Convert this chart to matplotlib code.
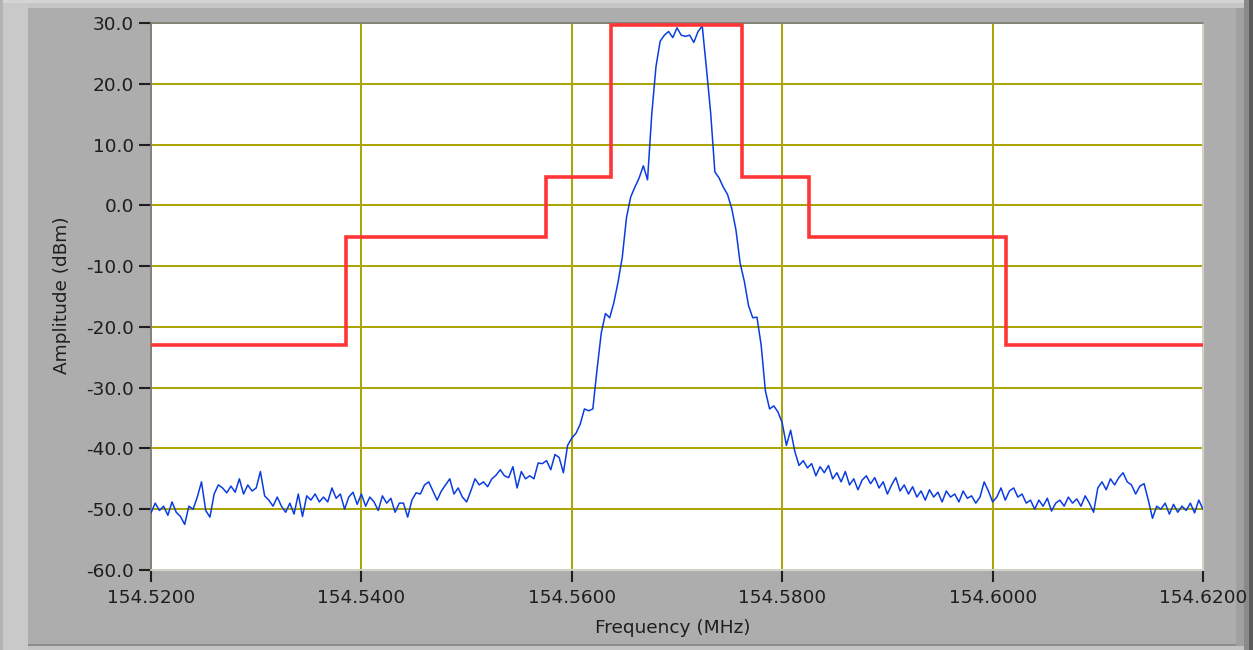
import numpy as np
import matplotlib
matplotlib.use("Agg")
import matplotlib.pyplot as plt
from matplotlib.patches import Rectangle
from matplotlib.ticker import FormatStrFormatter

plt.rcParams['axes.unicode_minus'] = False
plt.rcParams['font.family'] = ['DejaVu Sans']

# spectrum trace, one value every 0.0004 MHz from 154.5200 to 154.6200
f_start = 154.52
f_step = 0.0004
amplitude = [
    -50.6, -49.0, -50.2, -49.5, -51.0, -48.8, -50.5, -51.2, -52.5, -49.5,
    -50.0, -48.0, -45.5, -50.2, -51.3, -47.5, -46.0, -46.5, -47.3, -46.2,
    -47.2, -45.0, -47.5, -46.0, -47.0, -46.5, -43.8, -47.8, -48.5, -49.5,
    -48.0, -49.5, -50.5, -49.0, -50.8, -47.5, -51.2, -47.8, -48.5, -47.5,
    -48.8, -48.0, -48.8, -46.5, -48.2, -47.5, -50.0, -48.0, -47.2, -49.2,
    -47.5, -49.5, -48.0, -48.8, -50.2, -47.8, -49.0, -48.2, -50.5, -49.0,
    -49.0, -51.3, -48.5, -47.3, -47.5, -46.0, -45.5, -47.0, -48.5, -47.0,
    -46.0, -45.0, -47.5, -46.5, -48.0, -48.8, -47.0, -45.0, -46.0, -45.5,
    -46.3, -45.0, -44.4, -43.5, -44.5, -44.8, -43.0, -46.5, -43.8, -45.0,
    -44.5, -45.0, -42.4, -42.5, -42.0, -43.5, -41.0, -41.5, -44.0, -39.5,
    -38.3, -37.5, -36.0, -33.5, -33.8, -33.5, -27.0, -21.0, -17.8, -18.5,
    -16.0, -12.6, -8.5, -2.0, 1.4, 3.0, 4.5, 6.5, 4.2, 15.0,
    22.8, 27.0, 28.0, 28.6, 27.6, 29.2, 28.0, 27.8, 28.0, 26.8,
    28.6, 29.5, 22.5, 15.2, 5.5, 4.5, 3.0, 1.8, -0.5, -4.0,
    -9.5, -12.5, -16.5, -18.5, -18.4, -23.0, -30.5, -33.5, -33.0, -34.0,
    -35.8, -39.5, -37.0, -40.5, -42.8, -42.0, -43.2, -42.5, -44.5, -43.0,
    -44.0, -42.8, -45.0, -44.0, -45.5, -43.8, -46.0, -45.0, -46.8, -45.2,
    -44.5, -45.8, -44.8, -46.5, -45.5, -47.5, -46.0, -44.8, -47.0, -46.0,
    -47.5, -46.3, -48.0, -47.0, -48.5, -46.8, -48.0, -47.2, -48.8, -47.0,
    -48.0, -47.5, -48.8, -47.0, -48.2, -47.8, -49.0, -48.0, -45.5, -47.0,
    -48.8, -48.0, -46.5, -48.5, -47.0, -46.5, -48.0, -47.5, -49.0, -48.5,
    -50.0, -48.5, -49.5, -48.2, -50.3, -49.0, -48.5, -49.5, -48.0, -49.0,
    -48.3, -49.5, -47.8, -49.0, -50.5, -46.5, -45.5, -46.8, -45.0, -46.0,
    -44.8, -44.0, -45.5, -46.0, -47.5, -46.2, -45.8, -48.5, -51.5, -49.5,
    -50.0, -49.0, -50.8, -49.2, -50.5, -49.5, -50.2, -49.0, -50.6, -48.5,
    -50.0,
]

# spectral mask (step corners)
mask_freq = [154.52, 154.5385, 154.5385, 154.5575, 154.5575, 154.5637, 154.5637,
             154.5762, 154.5762, 154.5825, 154.5825, 154.6013, 154.6013, 154.62]
mask_level = [-23.0, -23.0, -5.2, -5.2, 4.7, 4.7, 29.7,
              29.7, 4.7, 4.7, -5.2, -5.2, -23.0, -23.0]

x_ticks = [154.52, 154.54, 154.56, 154.58, 154.60, 154.62]
y_ticks = [-60, -50, -40, -30, -20, -10, 0, 10, 20, 30]

freq = f_start + f_step * np.arange(len(amplitude))

W, H = 1253, 650
fig = plt.figure(figsize=(W / 100, H / 100), dpi=100, facecolor='#adadad')

# frame decoration around the panel
def px_rect(x0, y0, x1, y1, color):
    fig.add_artist(Rectangle((x0 / W, 1 - y1 / H), (x1 - x0) / W, (y1 - y0) / H,
                             transform=fig.transFigure, facecolor=color,
                             edgecolor='none', zorder=-10))

px_rect(0, 0, W, 3, '#d4d4d4')
px_rect(0, 3, W, 8, '#c6c6c6')
px_rect(0, 0, 3, H, '#b4b4b4')
px_rect(3, 3, 28, H, '#c9c9c9')
px_rect(1236, 8, 1244, H, '#a0a0a0')
px_rect(1244, 0, 1249, H, '#8a8a8a')
px_rect(1249, 0, W, H, '#5c5c5c')
px_rect(28, 644, 1236, 646, '#8c8c8c')
px_rect(28, 646, 1244, H, '#c4c4c4')

ax = fig.add_axes([151 / W, 80 / H, 1052 / W, 547 / H])
ax.set_facecolor('white')

ax.set_xlim(154.52, 154.62)
ax.set_ylim(-60, 30)
ax.set_xticks(x_ticks)
ax.set_yticks(y_ticks)
ax.xaxis.set_major_formatter(FormatStrFormatter('%.4f'))
ax.yaxis.set_major_formatter(FormatStrFormatter('%.1f'))

ax.grid(True, color='#aaa300', lw=1.4, zorder=0)
ax.set_axisbelow(True)

ax.plot(freq, amplitude, color='#0a3de0', lw=1.1, zorder=3)
ax.plot(mask_freq, mask_level, color='#ff3636', lw=2.6, zorder=4,
        solid_joinstyle='miter')

ax.tick_params(axis='both', direction='out', length=8.5, width=1.5,
               color='#1e1e1e', labelsize=13.3, labelcolor='#1e1e1e')
ax.tick_params(axis='y', pad=4)
ax.tick_params(axis='x', pad=5)

for side in ['left', 'top']:
    ax.spines[side].set_color('#7c7c7c')
    ax.spines[side].set_linewidth(1.2)
for side in ['right', 'bottom']:
    ax.spines[side].set_color('#dcdcdc')
    ax.spines[side].set_linewidth(1.2)

ax.set_xlabel('Frequency (MHz)', fontsize=13.3, color='#1e1e1e')
ax.set_ylabel('Amplitude (dBm)', fontsize=13.3, color='#1e1e1e')
ax.xaxis.set_label_coords(0.496, -0.106)
ax.yaxis.set_label_coords(-0.0846, 0.503)
ax.xaxis.label.set_verticalalignment('center')
ax.yaxis.label.set_verticalalignment('center')

fig.savefig('out.png', dpi=100, facecolor=fig.get_facecolor())
